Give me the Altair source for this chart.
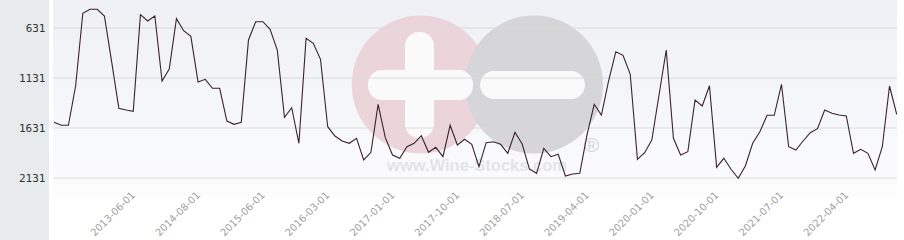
import altair as alt
import pandas as pd

# Rank values (lower = better), one per category point
rank = [1574, 1604, 1604, 1211, 484, 444, 444, 511, 968, 1434,
        1451, 1464, 498, 561, 511, 1161, 1041, 538, 658, 714,
        1171, 1144, 1234, 1234, 1561, 1594, 1574, 751, 568, 568,
        644, 851, 1524, 1428, 1784, 734, 784, 944, 1618, 1711,
        1761, 1784, 1734, 1951, 1874, 1394, 1728, 1901, 1934, 1818,
        1784, 1708, 1874, 1824, 1918, 1604, 1801, 1744, 1794, 2018,
        1778, 1768, 1794, 1884, 1674, 1791, 2041, 2084, 1834, 1918,
        1894, 2111, 2091, 2084, 1700, 1394, 1501, 1160, 868, 904,
        1091, 1944, 1878, 1751, 1301, 851, 1734, 1901, 1868, 1351,
        1411, 1208, 2024, 1934, 2044, 2134, 2008, 1784, 1668, 1504,
        1504, 1194, 1818, 1851, 1761, 1678, 1638, 1451, 1484, 1501,
        1511, 1884, 1844, 1884, 2051, 1818, 1211, 1494]

x_labels = ["2013-06-01", "2014-08-01", "2015-06-01", "2016-03-01",
            "2017-01-01", "2017-10-01", "2018-07-01", "2019-04-01",
            "2020-01-01", "2020-10-01", "2021-07-01", "2022-04-01"]
x_label_pos = [11, 20, 29, 38, 47, 56, 65, 74, 83, 92, 101, 110]
y_ticks = [631, 1131, 1631, 2131]

W, H = 844, 197

df = pd.DataFrame({"i": list(range(len(rank))), "rank": rank})
grid_df = pd.DataFrame({"rank": y_ticks})
one = pd.DataFrame({"a": [0]})

xscale = alt.Scale(domain=[-0.14, len(rank) - 1 + 0.04], nice=False, zero=False)
yscale = alt.Scale(domain=[351, 2321], reverse=True, nice=False, zero=False)

label_expr = "[" + ",".join("'%s'" % s for s in x_labels) + "][round((datum.value - 11) / 9)]"

xaxis = alt.Axis(values=x_label_pos, labelExpr=label_expr, labelAngle=-45,
                 labelAlign="right", labelBaseline="middle", labelColor="#a0a0a0",
                 labelFont="DejaVu Sans", labelFontSize=10, grid=False, domain=False,
                 ticks=False, labelPadding=-4, title=None, labelOverlap=False,
                 labelBound=False, zindex=1)
yaxis = alt.Axis(values=y_ticks, format="d", grid=False, domain=False, ticks=False,
                 labelFont="DejaVu Sans Mono", labelFontSize=11, labelColor="#333333",
                 labelPadding=8, title=None, zindex=1)

y_enc = alt.Y("rank:Q", scale=yscale, axis=yaxis)

panel = alt.Chart(one).mark_rect(color="#e8ebee").encode(
    x=alt.value(-53), x2=alt.value(-4), y=alt.value(0), y2=alt.value(240))

bg = alt.Chart(one).mark_rect(
    color=alt.LinearGradient(gradient="linear", x1=0, y1=0, x2=0, y2=1,
                             stops=[alt.GradientStop(color="#eef0f5", offset=0),
                                    alt.GradientStop(color="#fcfcfd", offset=1)])
).encode(x=alt.value(0), x2=alt.value(W), y=alt.value(0), y2=alt.value(H))

pink = alt.Chart(one).mark_point(shape="circle", filled=True, size=138 * 138,
                                 color="#ecd4db", opacity=1).encode(
    x=alt.value(367.7), y=alt.value(84.5))
grey = alt.Chart(one).mark_point(shape="circle", filled=True, size=138 * 138,
                                 color="#d6d6d8", opacity=1).encode(
    x=alt.value(481), y=alt.value(84.5))
plus_v = alt.Chart(one).mark_rect(color="#fafafb", cornerRadius=14).encode(
    x=alt.value(352), x2=alt.value(381), y=alt.value(32), y2=alt.value(138))
plus_h = alt.Chart(one).mark_rect(color="#fafafb", cornerRadius=14).encode(
    x=alt.value(315), x2=alt.value(420), y=alt.value(70), y2=alt.value(100))
minus = alt.Chart(one).mark_rect(color="#fafafb", cornerRadius=14).encode(
    x=alt.value(427), x2=alt.value(532), y=alt.value(71), y2=alt.value(99))
wm_text = alt.Chart(one).mark_text(text="www.Wine-Stocks.com", font="Liberation Sans",
                                   fontWeight="bold", fontSize=16.5, color="#e4e4e6",
                                   align="center", baseline="middle").encode(
    x=alt.value(424), y=alt.value(166))
reg = alt.Chart(one).mark_text(text="®", font="Liberation Sans", fontSize=21,
                               color="#d4d4d6", align="center", baseline="middle").encode(
    x=alt.value(538.5), y=alt.value(146))

grid = alt.Chart(grid_df).mark_rule(color="#dadada", strokeWidth=1).encode(
    y=y_enc, x=alt.value(0), x2=alt.value(W))

line = alt.Chart(df).mark_line(color="#3a2230", strokeWidth=1.1).encode(
    x=alt.X("i:Q", scale=xscale, axis=xaxis), y=y_enc)

chart = alt.layer(panel, bg, pink, grey, plus_v, plus_h, minus, wm_text, reg, grid, line).properties(
    width=W, height=H,
    autosize=alt.AutoSizeParams(type="none"),
    padding={"left": 53, "top": 0, "right": 7, "bottom": 43},
    background="white",
).configure_view(stroke=None)

chart.save("out.html", embed_options={"renderer": "svg", "actions": False})
